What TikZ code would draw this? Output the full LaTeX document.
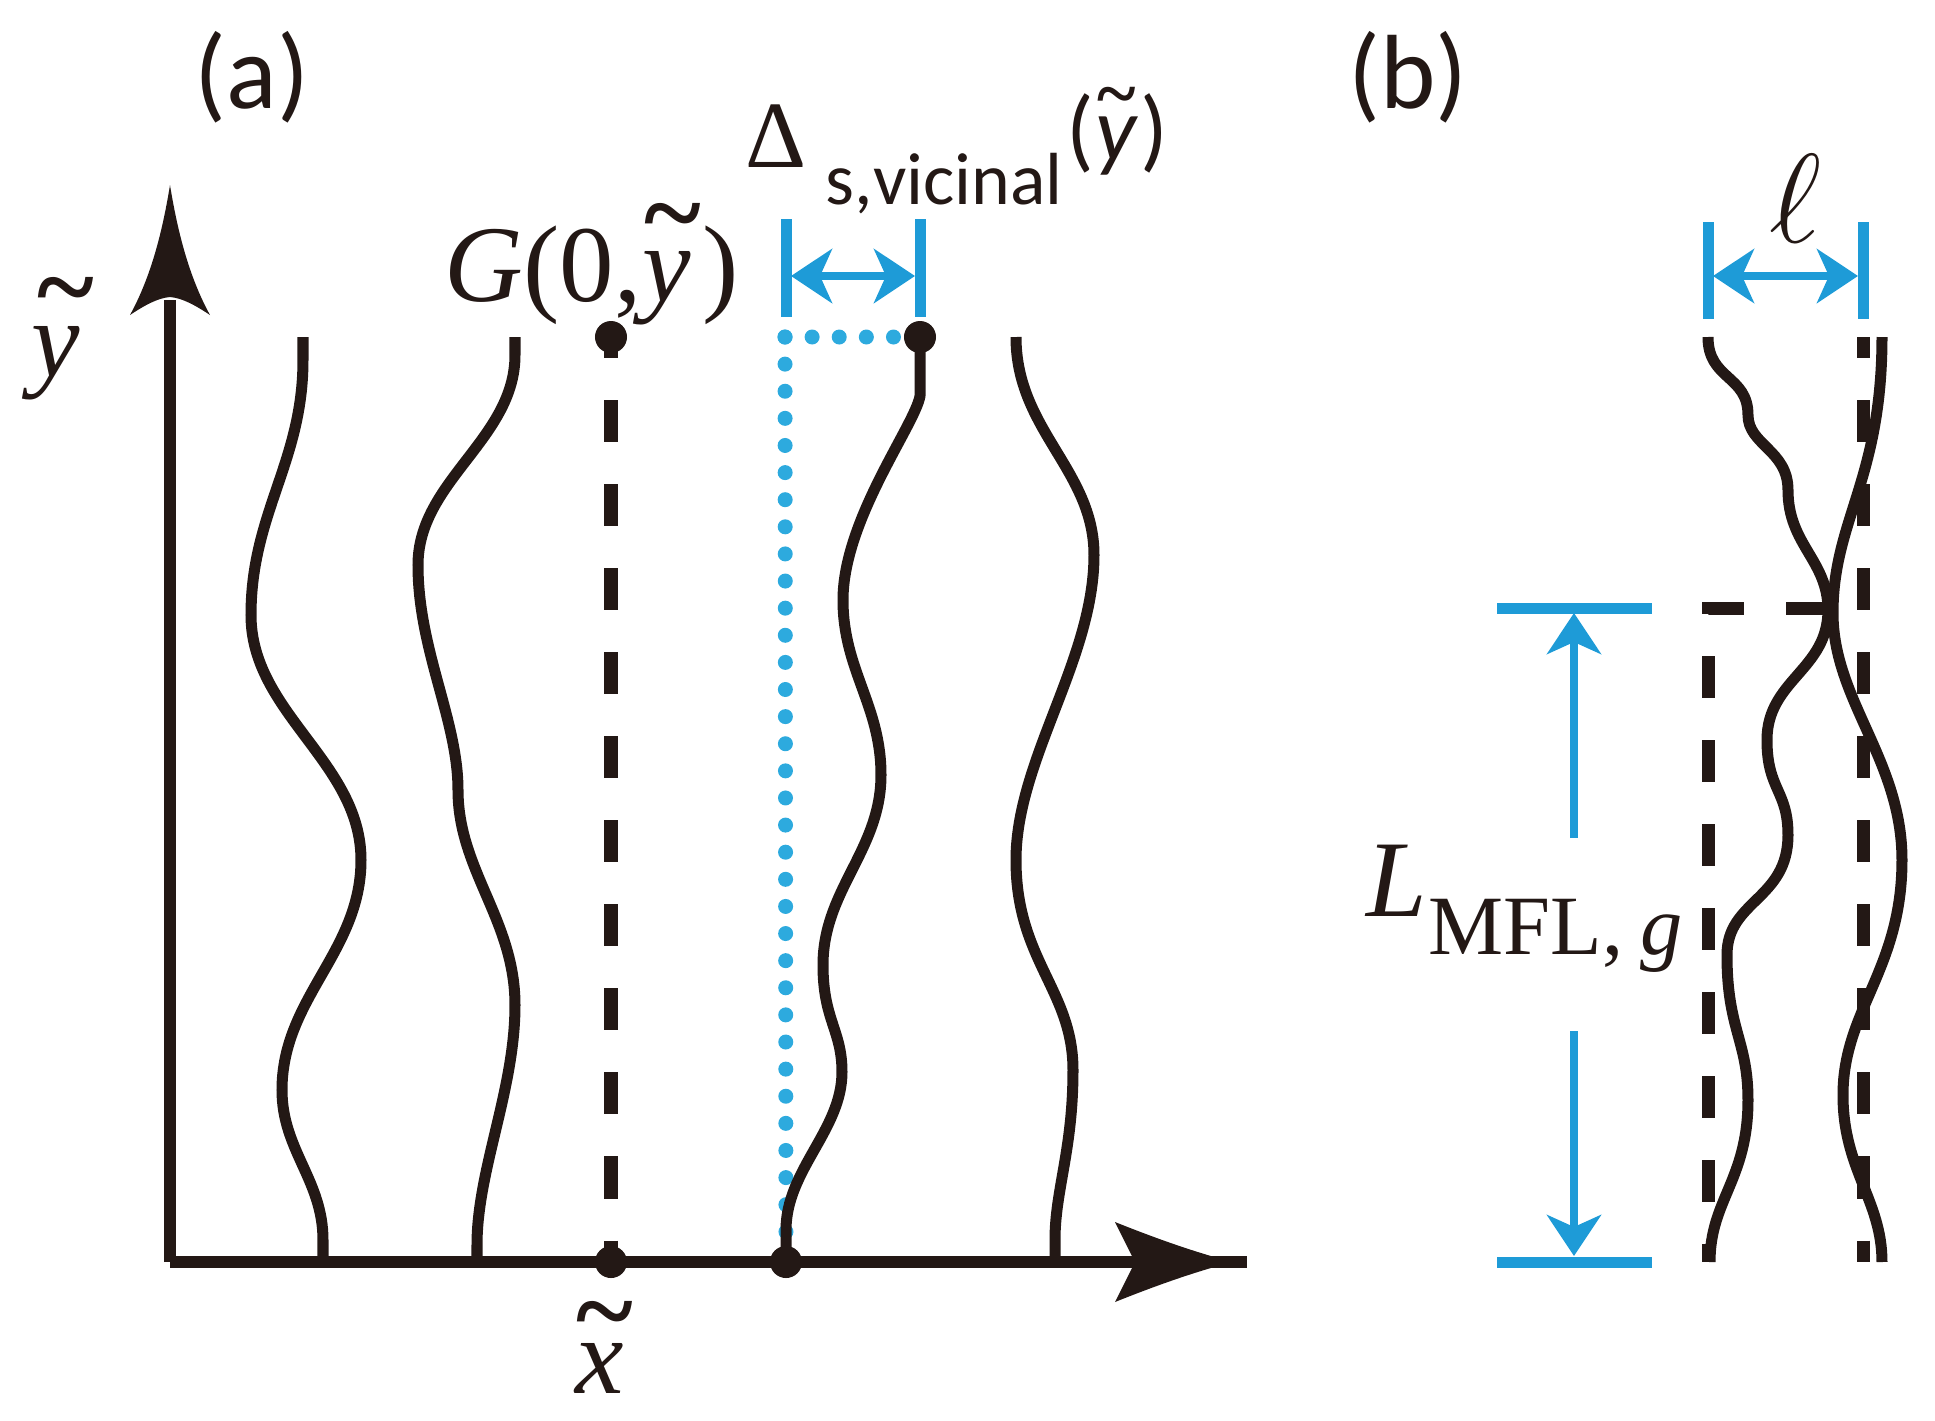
\RequirePackage{fix-cm}
\documentclass[tikz,border=0pt]{standalone}
\usepackage{fontspec}
\setmainfont{Liberation Serif}
\newfontfamily\carl{Carlito}
\usetikzlibrary{arrows.meta}
\definecolor{ink}{RGB}{35,24,21}
\definecolor{dimblue}{RGB}{30,155,215}
\definecolor{dotblue}{RGB}{45,170,222}
\tikzset{btip/.tip={Stealth[length=0.41cm,width=0.54cm,inset=0.12cm]}}
\begin{document}
\begin{tikzpicture}[x=0.01cm,y=-0.01cm,
  curve/.style={ink, line width=0.11cm, line join=round},
  axis/.style={ink, line width=0.11cm},
  dashln/.style={ink, line width=0.13cm, dash pattern=on 0.42cm off 0.42cm},
  dotln/.style={dotblue, line width=0.15cm, line cap=round, dash pattern=on 0pt off 0.271cm},
  bar/.style={dimblue, line width=0.11cm},
  dimarr/.style={dimblue, line width=0.085cm},
  pt/.style={circle, fill=ink, inner sep=0pt, minimum size=0.32cm},
  tms/.style={font=\fontsize{31}{31}\selectfont, inner sep=0pt, text=ink},
  tl/.style={font=\bfseries\fontsize{31}{31}\selectfont, inner sep=0pt, text=ink},
  sans/.style={font=\carl\fontsize{30}{30}\selectfont, inner sep=0pt, text=ink}
]
\useasboundingbox (0,0) rectangle (1935,1420);

% points and guides
\coordinate (cr) at (785,337);
\node[pt] (dG) at (611,337) {};
\node[pt] (dV) at (920,337) {};
\draw[dotln] (cr) -- (dV.center);
\draw[dotln] (cr) -- (786,1262);
\draw[dashln, dash phase=0.21cm] (dG.center) -- (611,1262);

% curves panel (a)
\draw[curve] (303,337) -- (303,360) .. controls (303,462) and (251,513) .. (251,615)
  .. controls (251,713) and (361,762) .. (361,860)
  .. controls (361,952) and (282,998) .. (282,1090)
  .. controls (282,1150) and (323,1180) .. (323,1240) -- (323,1262);
\draw[curve] (515,337) -- (515,355) .. controls (515,439) and (418,481) .. (418,565)
  .. controls (418,650) and (458,720) .. (458,790)
  .. controls (458,870) and (515,920) .. (515,1005)
  .. controls (515,1090) and (477,1170) .. (477,1245) -- (477,1262);
\draw[curve] (dV.center) -- (920,396) .. controls (915,425) and (843,520) .. (843,600)
  .. controls (843,670) and (881,705) .. (881,775)
  .. controls (881,850) and (823,890) .. (823,965)
  .. controls (823,1020) and (842,1030) .. (842,1072)
  .. controls (842,1130) and (786,1170) .. (786,1230) -- (786,1262);
\draw[curve] (1016,337) .. controls (1016,430) and (1094,470) .. (1094,555)
  .. controls (1094,660) and (1016,760) .. (1016,860)
  .. controls (1016,960) and (1073,990) .. (1073,1070)
  .. controls (1073,1150) and (1055,1190) .. (1055,1240) -- (1055,1262);

% axes
\coordinate (O) at (170,1262);
\coordinate (ytop) at (170,300);
\coordinate (xend) at (1247,1262);
\draw[axis] (O) -- (ytop);
\fill[ink] (170,185) .. controls (177,228) and (188,275) .. (210,315) .. controls (195,305) and (182,298) .. (170,297) .. controls (158,298) and (145,305) .. (130,315) .. controls (152,275) and (163,228) .. (170,185) -- cycle;
\draw[axis, line width=0.12cm] (O) -- (xend);
\fill[ink] (1115,1222) .. controls (1160,1240) and (1195,1252) .. (1232,1262) .. controls (1195,1272) and (1160,1284) .. (1115,1302) -- (1135,1262) -- cycle;
\node[pt] (dX) at (611,1262) {};
\node[pt] (dS) at (786,1262) {};

% dimension (a)
\draw[bar] (786,219) -- (786,317);
\draw[bar] (920,219) -- (920,317);
\draw[dimarr, arrows={btip-btip}] (791,276) -- (915,276);

% panel (b)
\draw[dashln] (1828,608) -- (1708,608) -- (1708,1262);
\draw[dashln, dash phase=0.21cm] (1863,337) -- (1863,1262);
\draw[curve] (1708,337) .. controls (1708,380) and (1748,375) .. (1748,415)
  .. controls (1748,445) and (1788,450) .. (1788,490)
  .. controls (1788,545) and (1828,560) .. (1828,610)
  .. controls (1828,670) and (1767,680) .. (1767,740)
  .. controls (1767,790) and (1788,790) .. (1788,835)
  .. controls (1788,900) and (1727,900) .. (1727,955)
  .. controls (1727,1030) and (1748,1040) .. (1748,1100)
  .. controls (1748,1180) and (1710,1200) .. (1710,1262);
\draw[curve] (1882,337) .. controls (1882,480) and (1833,520) .. (1833,613)
  .. controls (1833,700) and (1902,760) .. (1902,860)
  .. controls (1902,970) and (1843,1010) .. (1843,1095)
  .. controls (1843,1170) and (1882,1200) .. (1882,1262);

\draw[bar] (1708,222) -- (1708,319);
\draw[bar] (1863,222) -- (1863,319);
\draw[dimarr, arrows={btip-btip}] (1713,276) -- (1858,276);

\draw[bar] (1497,608) -- (1652,608);
\draw[bar] (1497,1262) -- (1652,1262);
\draw[dimarr, arrows={-btip}] (1574,838) -- (1574,613);
\draw[dimarr, arrows={-btip}] (1574,1031) -- (1574,1256);

% labels
\node[sans] (la) at (252,77) {(a)};
\node[sans] (lb) at (1408,77) {(b)};

\node[tms, anchor=base] (ay) at (56,376) {\itshape y};
\node[tl] (ayt) at ([shift={(10,-76)}]ay.base) {\textasciitilde};

\node[tms, anchor=base] (ax) at (600,1393) {\itshape x};
\node[tl] (axt) at ([shift={(5,-69)}]ax.base) {\textasciitilde};

\node[tms, anchor=base west] (G) at (444,301) {\itshape G\upshape(0,\hspace{0.18em}};
\node[tms, anchor=base west] (Gy) at (G.base east) {\itshape y};
\node[tms, anchor=base west] (Gr) at ([shift={(10,0)}]Gy.base east) {)};
\node[tl] (Gt) at ([shift={(6,-75)}]Gy.base) {\textasciitilde};

\node[anchor=base west, inner sep=0pt, font=\fontsize{27}{27}\selectfont, text=ink] (D) at (745,167) {Δ};
\node[anchor=base west, inner sep=0pt, font=\carl\fontsize{21}{21}\selectfont, text=ink] (Ds) at (825,204) {s,vicinal};
\node[anchor=base west, inner sep=0pt, font=\carl\fontsize{26}{26}\selectfont, text=ink] (Dp) at (1066,160) {(};
\node[anchor=base west, inner sep=0pt, font=\carl\itshape\fontsize{26}{26}\selectfont, text=ink] (Dy) at (Dp.base east) {y};
\node[anchor=base west, inner sep=0pt, font=\carl\fontsize{26}{26}\selectfont, text=ink] (Dq) at ([shift={(2,0)}]Dy.base east) {)};
\node[inner sep=0pt, font=\bfseries\fontsize{21}{21}\selectfont, text=ink] (Dt) at ([shift={(0,-57)}]Dy.base) {\textasciitilde};

\node[inner sep=0pt, font=\fontsize{36}{36}\selectfont, text=ink] (ell) at (1795,199) {$\ell$};

\node[tms, anchor=base west] (L) at (1366,916) {\itshape L};
\node[anchor=base west, inner sep=0pt, font=\fontsize{24}{24}\selectfont, text=ink] (Ls) at (1428,954) {MFL,\hspace{0.2em}\itshape g};
\end{tikzpicture}
\end{document}
